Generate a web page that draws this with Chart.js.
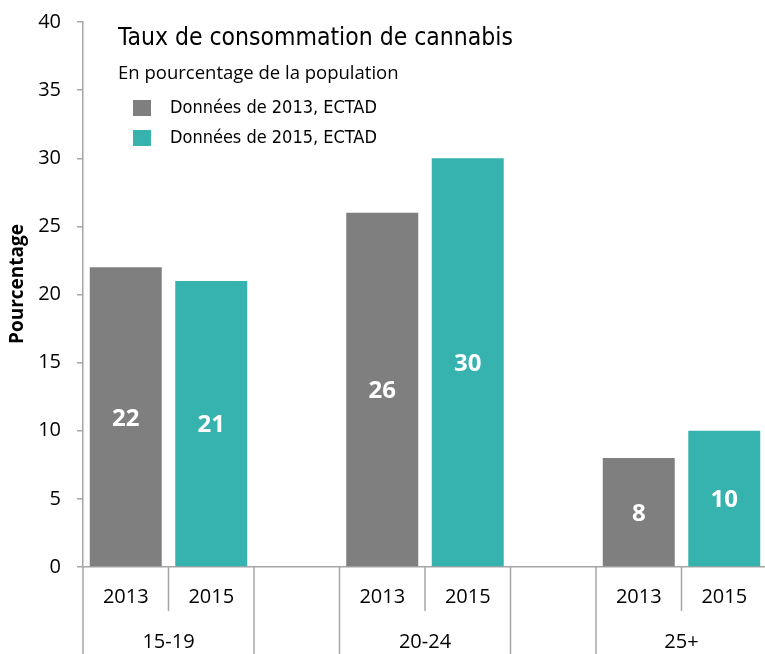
<!DOCTYPE html>
<html lang="fr">
<head>
  <meta charset="UTF-8" />
  <title>Taux de consommation de cannabis</title>
  <script src="https://cdn.jsdelivr.net/npm/chart.js@4.4.1/dist/chart.umd.min.js"></script>
  <style>
    html, body { margin: 0; padding: 0; background: #fff; overflow: hidden; }
    .wrap { position: relative; width: 770px; height: 654px; }
  </style>
</head>
<body>
  <div class="wrap"><canvas id="chart"></canvas></div>

  <script>
    // Données
    const groupes = ["15-19", "20-24", "25+"];
    const annees = ["2013", "2015"];
    const valeurs2013 = [22, 26, 8];
    const valeurs2015 = [21, 30, 10];
    const series = ["Données de 2013, ECTAD", "Données de 2015, ECTAD"];
    const couleurs = ["#7f7f7f", "#37b3af"];
    const titre = "Taux de consommation de cannabis";
    const sousTitre = "En pourcentage de la population";
    const titreY = "Pourcentage";

    // une case vide entre les groupes
    const etiquettes = [];
    const d2013 = [];
    const d2015 = [];
    groupes.forEach((g, i) => {
      etiquettes.push(annees[0], annees[1]);
      d2013.push(valeurs2013[i], null);
      d2015.push(null, valeurs2015[i]);
      if (i < groupes.length - 1) {
        etiquettes.push("");
        d2013.push(null);
        d2015.push(null);
      }
    });

    const police = "'Open Sans', sans-serif";
    const policeEtroite = "'Liberation Sans Narrow', 'DejaVu Sans Condensed', sans-serif";
    const gris = "#a6a6a6";

    // valeurs au milieu des barres
    const valeursBarres = {
      id: "valeursBarres",
      afterDatasetsDraw(chart) {
        const ctx = chart.ctx;
        ctx.save();
        ctx.fillStyle = "#fff";
        ctx.font = "bold 24px " + police;
        ctx.textAlign = "center";
        ctx.textBaseline = "middle";
        chart.data.datasets.forEach((ds, di) => {
          chart.getDatasetMeta(di).data.forEach((bar, i) => {
            if (ds.data[i] == null) return;
            ctx.fillText(ds.data[i], bar.x, (bar.y + bar.base) / 2 + 2);
          });
        });
        ctx.restore();
      }
    };

    // séparateurs, groupes, titres, légende
    const decor = {
      id: "decor",
      afterDraw(chart) {
        const { ctx, scales: { x }, chartArea: a } = chart;
        ctx.save();
        ctx.strokeStyle = gris;
        ctx.lineWidth = 1.5;
        groupes.forEach((g, i) => {
          const s = 3 * i;
          [[s - 0.5, chart.height], [s + 0.5, a.bottom + 44], [s + 1.5, chart.height]].forEach(([v, bas]) => {
            const px = x.getPixelForValue(v);
            ctx.beginPath();
            ctx.moveTo(px, a.bottom);
            ctx.lineTo(px, bas);
            ctx.stroke();
          });
          ctx.fillStyle = "#000";
          ctx.font = "20px " + police;
          ctx.textAlign = "center";
          ctx.textBaseline = "middle";
          ctx.fillText(g, x.getPixelForValue(s + 0.5), a.bottom + 75);
        });

        // titre de l'axe Y
        ctx.save();
        ctx.translate(18, a.top + 262);
        ctx.rotate(-Math.PI / 2);
        ctx.font = "bold 19px " + police;
        ctx.fillText(titreY, 0, 0);
        ctx.restore();

        // titre
        ctx.textAlign = "left";
        ctx.textBaseline = "middle";
        ctx.fillStyle = "#000";
        ctx.font = "24.5px " + policeEtroite;
        ctx.fillText(titre, a.left + 35, 39);
        ctx.font = "18.5px " + police;
        ctx.fillText(sousTitre, a.left + 35, 74);

        // légende
        ctx.font = "18px " + policeEtroite;
        chart.data.datasets.forEach((ds, i) => {
          const yy = 108 + i * 30;
          ctx.fillStyle = ds.backgroundColor;
          ctx.fillRect(a.left + 50, yy - 8, 18, 16);
          ctx.fillStyle = "#000";
          ctx.fillText(ds.label, a.left + 87, yy);
        });
        ctx.restore();
      }
    };

    new Chart(document.getElementById("chart"), {
      type: "bar",
      data: {
        labels: etiquettes,
        datasets: [
          { label: series[0], data: d2013, backgroundColor: couleurs[0] },
          { label: series[1], data: d2015, backgroundColor: couleurs[1] }
        ]
      },
      options: {
        responsive: true,
        maintainAspectRatio: false,
        animation: false,
        grouped: false,
        barPercentage: 0.842,
        categoryPercentage: 1,
        layout: { padding: { top: 22, right: 3, left: 0, bottom: 0 } },
        plugins: {
          legend: { display: false },
          tooltip: { enabled: false }
        },
        scales: {
          x: {
            grid: { display: false, drawTicks: false },
            border: { display: true, color: gris, width: 1.5 },
            ticks: { color: "#000", font: { family: police, size: 20 }, padding: 18, maxRotation: 0, autoSkip: false },
            afterFit(scale) { scale.height = 87; }
          },
          y: {
            min: 0,
            max: 40,
            grid: { drawOnChartArea: false, drawTicks: true, tickLength: 6, color: gris, lineWidth: 1.5 },
            border: { display: true, color: gris, width: 1.5 },
            ticks: { stepSize: 5, color: "#000", font: { family: police, size: 20 }, padding: 16 },
            afterFit(scale) {
              scale.width = 83;
              scale.paddingTop = 0;
              scale.paddingBottom = 0;
            }
          }
        }
      },
      plugins: [valeursBarres, decor]
    });
  </script>
</body>
</html>
